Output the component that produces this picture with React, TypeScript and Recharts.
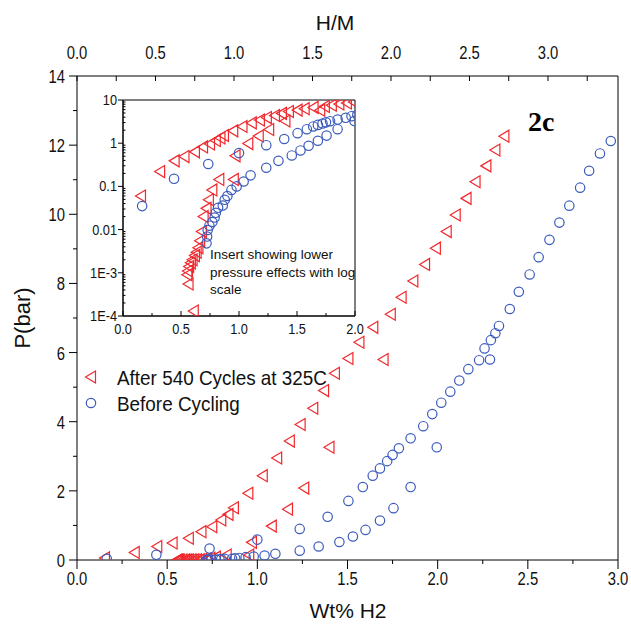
import React from "react";
import {
  ScatterChart,
  Scatter,
  XAxis,
  YAxis,
  Legend,
  Label,
  ReferenceLine,
  ReferenceArea,
} from "recharts";

// After 540 cycles at 325C (red triangles)
const redAbsWt = [0.155, 0.32, 0.445, 0.53, 0.62, 0.69, 0.75, 0.8, 0.84, 0.87, 0.95, 1.03, 1.11, 1.18, 1.24, 1.31, 1.37, 1.43, 1.505, 1.566, 1.643, 1.74, 1.8, 1.865, 1.93, 1.99, 2.05, 2.1, 2.16, 2.21, 2.27, 2.32, 2.37];
const redAbsP = [0.06, 0.22, 0.39, 0.49, 0.63, 0.82, 0.96, 1.16, 1.32, 1.51, 1.93, 2.44, 2.95, 3.44, 3.92, 4.39, 4.9, 5.4, 5.83, 6.3, 6.73, 7.11, 7.6, 8.07, 8.55, 9.02, 9.5, 9.98, 10.46, 10.94, 11.4, 11.86, 12.26];
const redDesWt = [1.7, 1.4, 1.26, 1.17, 1.08, 0.97, 0.955, 0.83, 0.77, 0.74, 0.72, 0.695, 0.68, 0.665, 0.65, 0.635, 0.62, 0.6, 0.585, 0.57, 0.56, 0.555, 0.565, 0.61];
const redDesP = [5.8, 3.26, 2.08, 1.47, 0.98, 0.51, 0.145, 0.145, 0.083, 0.049, 0.031, 0.02, 0.009, 0.0055, 0.0038, 0.003, 0.0025, 0.002, 0.0017, 0.0014, 0.0011, 0.0009, 0.00055, 0.00013];

// Before cycling (blue circles)
const blueAbsWt = [0.165, 0.44, 0.735, 1.0, 1.235, 1.39, 1.505, 1.585, 1.64, 1.68, 1.72, 1.75, 1.785, 1.85, 1.92, 1.97, 2.02, 2.07, 2.12, 2.17, 2.23, 2.26, 2.295, 2.32, 2.34, 2.4, 2.45, 2.51, 2.56, 2.62, 2.675, 2.73, 2.79, 2.84, 2.9, 2.96];
const blueAbsP = [0.035, 0.15, 0.33, 0.59, 0.9, 1.25, 1.71, 2.11, 2.44, 2.65, 2.86, 3.04, 3.23, 3.52, 3.87, 4.22, 4.55, 4.87, 5.19, 5.52, 5.78, 6.12, 6.36, 6.56, 6.77, 7.26, 7.76, 8.26, 8.76, 9.26, 9.76, 10.25, 10.77, 11.26, 11.76, 12.12];
const blueDesWt = [2.29, 1.995, 1.85, 1.755, 1.68, 1.6, 1.53, 1.455, 1.34, 1.235, 1.1, 1.04, 0.98, 0.935, 0.9, 0.877, 0.86, 0.82, 0.8, 0.79, 0.77, 0.745, 0.73, 0.725, 0.72];
const blueDesP = [5.8, 3.26, 2.11, 1.5, 1.14, 0.87, 0.68, 0.52, 0.39, 0.27, 0.18, 0.13, 0.1, 0.083, 0.06, 0.049, 0.036, 0.032, 0.0245, 0.019, 0.015, 0.0123, 0.0098, 0.0069, 0.0048];

const wtTicks = [0, 0.25, 0.5, 0.75, 1, 1.25, 1.5, 1.75, 2, 2.25, 2.5, 2.75, 3];
const pTicks = [0, 1, 2, 3, 4, 5, 6, 7, 8, 9, 10, 11, 12, 13, 14];
const hmTicks = [0, 0.25, 0.5, 0.75, 1, 1.25, 1.5, 1.75, 2, 2.25, 2.5, 2.75, 3, 3.25];
const insetWtTicks = [0, 0.25, 0.5, 0.75, 1, 1.25, 1.5, 1.75, 2];
const decades = [1e-4, 1e-3, 0.01, 0.1, 1, 10];
const decadeLabels = ["1E-4", "1E-3", "0.01", "0.1", "1", "10"];

// H/M per Wt% H2 (top axis: 3.446 H/M at 3.0 wt%)
const HM_PER_WT = 3.446 / 3;

const RED = "#f0282d";
const BLUE = "#3b5bbd";
const FONT = "'Liberation Sans', Arial, sans-serif";

const toPts = (xs: number[], ys: number[]) =>
  xs.map((x, i) => ({ x, y: ys[i], hm: x * HM_PER_WT }));
const redPts = [...toPts(redAbsWt, redAbsP), ...toPts(redDesWt, redDesP)];
const bluePts = [...toPts(blueAbsWt, blueAbsP), ...toPts(blueDesWt, blueDesP)];
const insetRed = redPts.filter((p) => p.x <= 2.05);
const insetBlue = bluePts.filter((p) => p.x <= 2.05);

const insetPTicks = decades.flatMap((d, i) =>
  i === decades.length - 1 ? [d] : [d, 2 * d, 3 * d, 4 * d, 5 * d, 6 * d, 7 * d, 8 * d, 9 * d]
);

const NText = ({ x, y, sx = 1, size, anchor = "middle", children }: any) => (
  <text
    transform={`translate(${x},${y}) scale(${sx},1)`}
    textAnchor={anchor}
    fontSize={size}
    fontFamily={FONT}
    fill="#111"
  >
    {children}
  </text>
);

const Tri = ({ cx, cy }: any) => (
  <polygon
    points={`${cx - 5.5},${cy} ${cx + 4.5},${cy - 6} ${cx + 4.5},${cy + 6}`}
    fill="none"
    stroke={RED}
    strokeWidth={1.2}
  />
);
const Circ = ({ cx, cy }: any) => (
  <circle cx={cx} cy={cy} r={4.7} fill="none" stroke={BLUE} strokeWidth={1.2} />
);
const NoMark = () => <g />;

const isHalf = (v: number) => Math.abs(v * 2 - Math.round(v * 2)) < 1e-6;

const BottomTick = ({ x, y, payload }: any) => {
  const v = payload.value;
  const major = isHalf(v);
  return (
    <g>
      <line x1={x} x2={x} y1={y} y2={y + (major ? 9 : 4)} stroke="#000" />
      {major && (
        <NText x={x} y={y + 25} size={19} sx={0.78}>
          {v.toFixed(1)}
        </NText>
      )}
    </g>
  );
};

const LeftTick = ({ x, y, payload }: any) => {
  const v = payload.value;
  const major = v % 2 === 0;
  return (
    <g>
      <line x1={x - (major ? 8 : 4)} x2={x} y1={y} y2={y} stroke="#000" />
      {major && (
        <NText x={x - 12} y={y + 7} size={19} sx={0.78} anchor="end">
          {v}
        </NText>
      )}
    </g>
  );
};

const TopTick = ({ x, y, payload }: any) => {
  const v = payload.value;
  return (
    <g>
      <line x1={x} x2={x} y1={y} y2={y + 5} stroke="#000" />
      {isHalf(v) && v <= 3 && (
        <NText x={x} y={y - 17} size={19} sx={0.78}>
          {v.toFixed(1)}
        </NText>
      )}
    </g>
  );
};

const InsetXTick = ({ x, y, payload }: any) => {
  const v = payload.value;
  const major = isHalf(v);
  return (
    <g>
      <line x1={x} x2={x} y1={y} y2={y - (major ? 5 : 3)} stroke="#000" />
      {major && (
        <NText x={x} y={y + 18} size={15} sx={0.85}>
          {v.toFixed(1)}
        </NText>
      )}
    </g>
  );
};

const InsetYTick = ({ x, y, payload }: any) => {
  const v = payload.value;
  const idx = decades.indexOf(v);
  if (idx < 0) {
    return <line x1={x} x2={x + 2.5} y1={y} y2={y} stroke="#000" />;
  }
  return (
    <g>
      <line x1={x - 5} x2={x} y1={y} y2={y} stroke="#000" />
      <NText x={x - 6} y={y + 5} size={15} sx={0.85} anchor="end">
        {decadeLabels[idx]}
      </NText>
    </g>
  );
};

const LegendBox = () => (
  <svg width={320} height={52}>
    <Tri cx={11} cy={13} />
    <NText x={37} y={20.5} size={21} sx={0.9} anchor="start">
      After 540 Cycles at 325C
    </NText>
    <Circ cx={11} cy={39} />
    <NText x={37} y={46.5} size={21} sx={0.9} anchor="start">
      Before Cycling
    </NText>
  </svg>
);

const App = () => {
  return (
    <div style={{ position: "absolute", left: 0, top: 0, width: 631, height: 631, background: "#fff" }}>
      <ScatterChart width={631} height={631} margin={{ top: 46, right: 13, bottom: 41, left: 37 }}>
        <XAxis
          xAxisId="wt"
          type="number"
          dataKey="x"
          domain={[0, 3]}
          ticks={wtTicks}
          interval={0}
          allowDataOverflow
          height={30}
          tickSize={0}
          tickMargin={0}
          tickLine={false}
          axisLine={{ stroke: "#000" }}
          tick={BottomTick}
        >
          <Label
            content={() => (
              <text x={348} y={618} textAnchor="middle" fontSize={21} fontFamily={FONT} fill="#111">
                Wt% H2
              </text>
            )}
          />
        </XAxis>
        <XAxis
          xAxisId="hm"
          orientation="top"
          type="number"
          dataKey="hm"
          domain={[0, 3.446]}
          ticks={hmTicks}
          interval={0}
          allowDataOverflow
          height={30}
          tickSize={0}
          tickMargin={0}
          tickLine={false}
          axisLine={{ stroke: "#000" }}
          tick={TopTick}
        >
          <Label
            content={() => (
              <text x={335} y={30} textAnchor="middle" fontSize={21} fontFamily={FONT} fill="#111">
                H/M
              </text>
            )}
          />
        </XAxis>
        <YAxis
          type="number"
          dataKey="y"
          domain={[0, 14]}
          ticks={pTicks}
          interval={0}
          allowDataOverflow
          width={40}
          tickSize={0}
          tickMargin={0}
          tickLine={false}
          axisLine={{ stroke: "#000" }}
          tick={LeftTick}
        >
          <Label
            content={() => (
              <text
                transform="translate(30,318) rotate(-90)"
                textAnchor="middle"
                fontSize={22}
                fontFamily={FONT}
                fill="#111"
              >
                P(bar)
              </text>
            )}
          />
        </YAxis>
        <ReferenceLine xAxisId="wt" x={3} stroke="#000" />
        <Legend
          layout="vertical"
          align="center"
          verticalAlign="middle"
          wrapperStyle={{ left: 80, top: 364, width: 320, height: 52 }}
          content={LegendBox}
        />
        <Scatter
          name="After 540 Cycles at 325C"
          xAxisId="wt"
          data={redPts}
          fill={RED}
          shape={Tri}
          isAnimationActive={false}
        />
        <Scatter
          name="Before Cycling"
          xAxisId="wt"
          data={bluePts}
          fill={BLUE}
          shape={Circ}
          isAnimationActive={false}
        />
        {/* carries the H/M scale so the top axis is drawn; no visible marks */}
        <Scatter
          xAxisId="hm"
          data={bluePts}
          shape={NoMark}
          legendType="none"
          isAnimationActive={false}
        />
      </ScatterChart>

      <div style={{ position: "absolute", left: 80, top: 90, width: 290, height: 250 }}>
        <ScatterChart width={290} height={250} margin={{ top: 10, right: 15, bottom: 4, left: 3 }}>
          <XAxis
            xAxisId="ix"
            type="number"
            dataKey="x"
            domain={[0, 2]}
            ticks={insetWtTicks}
            interval={0}
            allowDataOverflow
            height={20}
            tickSize={0}
            tickMargin={0}
            tickLine={false}
            axisLine={{ stroke: "#000" }}
            tick={InsetXTick}
          />
          <YAxis
            yAxisId="iy"
            type="number"
            dataKey="y"
            scale="log"
            domain={[1e-4, 10]}
            ticks={insetPTicks}
            interval={0}
            allowDataOverflow
            width={40}
            tickSize={0}
            tickMargin={0}
            tickLine={false}
            axisLine={{ stroke: "#000" }}
            tick={InsetYTick}
          />
          <ReferenceArea xAxisId="ix" yAxisId="iy" x1={0} x2={2} y1={1e-4} y2={10} fill="none" stroke="#000" />
          <Scatter xAxisId="ix" yAxisId="iy" data={insetRed} fill={RED} shape={Tri} isAnimationActive={false} />
          <Scatter xAxisId="ix" yAxisId="iy" data={insetBlue} fill={BLUE} shape={Circ} isAnimationActive={false} />
        </ScatterChart>
        <div
          style={{
            position: "absolute",
            left: 130,
            top: 156,
            fontFamily: FONT,
            fontSize: 13.5,
            lineHeight: "17.5px",
            color: "#111",
            whiteSpace: "nowrap",
          }}
        >
          Insert showing lower
          <br />
          pressure effects with log
          <br />
          scale
        </div>
      </div>

      <div
        style={{
          position: "absolute",
          left: 528,
          top: 108,
          fontFamily: "'Liberation Serif', 'Times New Roman', serif",
          fontWeight: "bold",
          fontSize: 28,
          lineHeight: "28px",
          color: "#000",
        }}
      >
        2c
      </div>
    </div>
  );
};

export default App;
